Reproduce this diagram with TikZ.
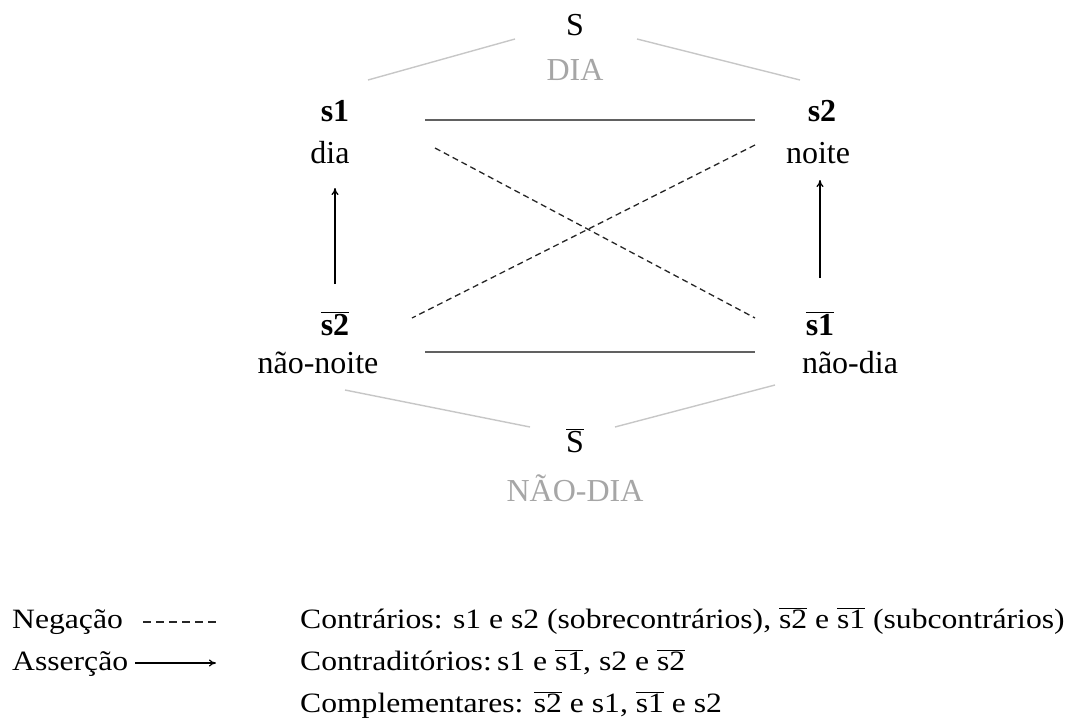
\documentclass[tikz,border=0pt]{standalone}
\usepackage{fontspec}
\usepackage{graphicx}
\setmainfont{Liberation Serif}
\usetikzlibrary{arrows.meta}
\newcommand{\ovl}[1]{\ensuremath{\overline{\mbox{#1}}}}
\newcommand{\wide}[1]{\scalebox{1.13}[1]{#1}}
\tikzset{
  lbl/.style={inner sep=0pt, anchor=base, font=\fontsize{32}{38}\selectfont},
  glbl/.style={lbl, text=black!35},
  leg/.style={inner sep=0pt, anchor=base west, font=\fontsize{28}{34}\selectfont},
  grayline/.style={draw=black!22, line width=1.4pt},
  solidline/.style={draw=black!62, line width=2.4pt},
  negline/.style={draw=black!85, line width=1.3pt, dash pattern=on 6pt off 4pt},
  assert/.style={draw=black, line width=1.3pt, -{To[length=7pt,width=7pt]}}
}
\begin{document}
\begin{tikzpicture}[x=1pt,y=-1pt]
\useasboundingbox (0,0) rectangle (1072,718);
% top
\node[lbl] (S) at (575,35) {S};
\node[glbl] (DIA) at (575,80) {DIA};
\node[lbl] (s1) at (335,121) {\textbf{s1}};
\node[lbl] (dia) at (330,163) {dia};
\node[lbl] (s2) at (822,121) {\textbf{s2}};
\node[lbl] (noite) at (818,163) {noite};
\node[lbl] (s2b) at (335,335) {\textbf{\ovl{\textbf{s2}}}};
\node[lbl] (naonoite) at (318,373) {não-noite};
\node[lbl] (s1b) at (820,335) {\textbf{\ovl{\textbf{s1}}}};
\node[lbl] (naodia) at (850,373) {não-dia};
\node[lbl] (Sb) at (575,452) {\ovl{S}};
\node[glbl] (NAODIA) at (575,501) {NÃO-DIA};
% free-end coordinates
\coordinate (gTL1) at (368,80);  \coordinate (gTL2) at (515,39);
\coordinate (gTR1) at (637,39);  \coordinate (gTR2) at (800,80);
\coordinate (gBL1) at (345,390); \coordinate (gBL2) at (530,427);
\coordinate (gBR1) at (615,427); \coordinate (gBR2) at (775,385);
\coordinate (topA) at (425,120); \coordinate (topB) at (755,120);
\coordinate (botA) at (425,352); \coordinate (botB) at (755,352);
\coordinate (d1a) at (435,148);  \coordinate (d1b) at (755,318);
\coordinate (d2a) at (755,145);  \coordinate (d2b) at (412,318);
\coordinate (a1a) at (335,284);  \coordinate (a1b) at (335,188);
\coordinate (a2a) at (820,278);  \coordinate (a2b) at (820,180);
\draw[grayline] (gTL1) -- (gTL2);
\draw[grayline] (gTR1) -- (gTR2);
\draw[grayline] (gBL1) -- (gBL2);
\draw[grayline] (gBR1) -- (gBR2);
\draw[solidline] (topA) -- (topB);
\draw[solidline] (botA) -- (botB);
\draw[negline] (d1a) -- (d1b);
\draw[negline] (d2a) -- (d2b);
\draw[assert] (a1a) -- (a1b);
\draw[assert] (a2a) -- (a2b);
% legend
\node[leg] (neg) at (12,628) {\wide{Negação}};
\node[leg] (ass) at (12,670) {\wide{Asserção}};
\coordinate (ln1) at (143,622); \coordinate (ln2) at (219,622);
\coordinate (la1) at (135,663); \coordinate (la2) at (216,663);
\draw[negline, line width=1.1pt, dash pattern=on 8pt off 5pt] (ln1) -- (ln2);
\draw[assert, line width=1.2pt] (la1) -- (la2);
\node[leg] (c1) at (300,628) {\wide{Contrários: s1 e s2 (sobrecontrários), \ovl{s2} e \ovl{s1} (subcontrários)}};
\node[leg] (c2) at (300,670) {\wide{Contraditórios:\,s1 e \ovl{s1}, s2 e \ovl{s2}}};
\node[leg] (c3) at (300,712) {\wide{Complementares: \ovl{s2} e s1, \ovl{s1} e s2}};
\end{tikzpicture}
\end{document}
